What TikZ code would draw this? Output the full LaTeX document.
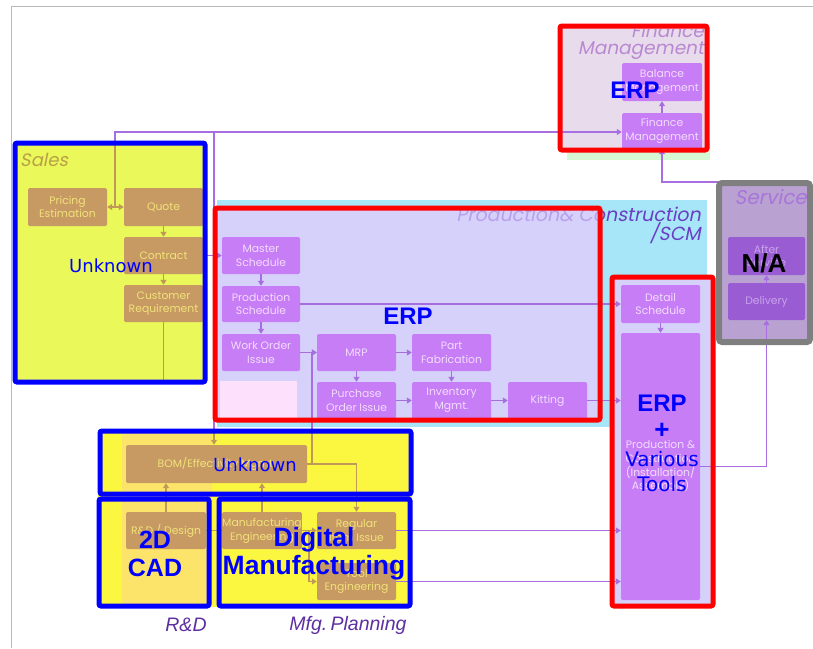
\documentclass[tikz,border=0pt]{standalone}
\usepackage{fontspec}
\setmainfont{Liberation Sans}
\newfontfamily\boxfont{Poppins}
\newfontfamily\titfont[FakeSlant=0.2]{Poppins}
\newfontfamily\djv{DejaVu Sans}
\usetikzlibrary{arrows.meta}

\definecolor{lineP}{HTML}{A66EE0}
\definecolor{lineB}{HTML}{C09858}
\definecolor{boxP}{HTML}{C77DF6}
\definecolor{boxPT}{HTML}{F2DCFF}
\definecolor{boxB}{HTML}{C69A62}
\definecolor{boxBT}{HTML}{F2E27A}
\definecolor{boxS}{HTML}{9A5CD2}
\definecolor{boxST}{HTML}{C8A2EC}
\definecolor{salesY}{HTML}{EAF85A}
\definecolor{botY}{HTML}{FBF640}
\definecolor{rdY}{HTML}{FCE46A}
\definecolor{cyanBg}{HTML}{A6E6F8}
\definecolor{lavBg}{HTML}{D5D1FA}
\definecolor{pinkBg}{HTML}{FCE0FC}
\definecolor{finBg}{HTML}{E8DCEC}
\definecolor{finG}{HTML}{D6F8D2}
\definecolor{svcBg}{HTML}{B9A2D2}
\definecolor{titDark}{HTML}{6B3FC4}
\definecolor{titLight}{HTML}{B8A0EC}
\definecolor{salesT}{HTML}{B8A048}
\definecolor{bottomT}{HTML}{5E2FA0}
\definecolor{frameG}{HTML}{7F7F7F}

\tikzset{
  box/.style={rounded corners=1.5pt, inner sep=0pt, align=center,
    font=\boxfont\fontsize{10.8}{13.8}\selectfont},
  sz/.style 2 args={minimum width=#1pt, minimum height=#2pt},
  pbox/.style={box, fill=boxP, text=boxPT},
  bbox/.style={box, fill=boxB, text=boxBT},
  sbox/.style={box, fill=boxS, text=boxST},
  pline/.style={draw=lineP, line width=1.2pt},
  bline/.style={draw=lineB, line width=1.2pt},
  arr/.style={-{Triangle[length=5pt,width=6pt]}},
  redframe/.style={draw=red, line width=5pt, rounded corners=2pt},
  blueframe/.style={draw=blue, line width=5pt, rounded corners=2pt},
  areatitle/.style={inner sep=0pt, font=\titfont\fontsize{#1}{#1}\selectfont},
  bigb/.style={inner sep=0pt, text=blue, align=center,
    font=\bfseries\fontsize{#1}{#1}\selectfont},
  reg/.style={inner sep=0pt, text=blue, align=center,
    font=\djv\fontsize{#1}{#1}\selectfont},
}

\begin{document}
\begin{tikzpicture}[x=1pt,y=-1pt]
\useasboundingbox (0,0) rectangle (813,648);
\fill[white] (0,0) rectangle (813,648);
% page frame
\draw[gray!55, line width=0.8pt] (11,648) -- (11,6) -- (813,6);

% ---------- area backgrounds ----------
\fill[finG] (567,142) rectangle (710,160);
\fill[finBg] (560,26) rectangle (707,152);
\fill[salesY] (15,143) rectangle (205,382);
\fill[cyanBg] (217,200) rectangle (707,427);
\fill[svcBg] (719,183) rectangle (810,342);
\fill[lavBg] (612,277) rectangle (713,606);
\fill[botY] (98,431) rectangle (412,607);
\fill[rdY] (122,431) rectangle (212,607);

% ---------- area titles ----------
\begin{scope}
  \clip (560,29) rectangle (707,152);
  \node[areatitle=18.5, anchor=east, text=titLight!85!purple] (tFin1) at (704,31) {Finance};
  \node[areatitle=18.5, anchor=east, text=titLight!85!purple] (tFin2) at (704,51) {Management};
\end{scope}
\node[areatitle=18, anchor=west, text=salesT] (tSales) at (20,160) {Sales};
\node[areatitle=19, anchor=east, text=titDark] (tProd1) at (701,214) {Production\& Construction};
\node[areatitle=19, anchor=east, text=titDark] (tProd2) at (701,233) {/SCM};
\node[areatitle=20, anchor=east, text=boxS!85!white] (tSvc) at (807,197) {Service};

% lavender inner production area, with the title faded over it
\fill[lavBg] (218,210) rectangle (598,418);
\begin{scope}
  \clip (218,210) rectangle (598,418);
  \node[areatitle=19, anchor=east, text=titLight] at (701,214) {Production\& Construction};
\end{scope}
\fill[pinkBg] (220,381) rectangle (297,418);

% ---------- finance ----------
\node[pbox, sz={80}{38}] (bal) at (662,82) {Balance\\Management};
\node[pbox, sz={80}{36}] (finm) at (662,131) {Finance\\Management};
\draw[pline, arr] (finm) -- (bal);

% ---------- sales ----------
\node[bbox, sz={79}{38}] (pe) at (67.5,207) {Pricing\\Estimation};
\node[bbox, sz={79}{38}] (quote) at (163.5,207) {Quote};
\node[bbox, sz={79}{37}] (contract) at (163.5,255.5) {Contract};
\node[bbox, sz={79}{37}] (cr) at (163.5,303.5) {Customer\\Requirement};

% ---------- production ----------
\node[pbox, sz={78}{37}] (ms) at (261,255.5) {Master\\Schedule};
\node[pbox, sz={78}{36}] (ps) at (261,304) {Production\\Schedule};
\node[pbox, sz={78}{37}] (wo) at (261,352.5) {Work Order\\Issue};
\node[pbox, sz={79}{37}] (mrp) at (356.5,352.5) {MRP};
\node[pbox, sz={79}{37}] (pf) at (451.5,352.5) {Part\\Fabrication};
\node[pbox, sz={79}{37}] (po) at (356.5,400.5) {Purchase\\Order Issue};
\node[pbox, sz={79}{37}] (inv) at (451.5,400.5) {Inventory\\Mgmt.};
\node[pbox, sz={79}{37}] (kit) at (547.5,400.5) {Kitting};
\node[pbox, sz={79}{38}] (ds) at (660.5,304) {Detail\\Schedule};
\node[pbox, sz={79}{267}] (pi) at (660.5,466.5) {Production \&\\Construction\\(Installation/\\Assembly)};

% ---------- service ----------
\node[sbox, sz={77}{38}] (after) at (766.5,256) {After\\Service};
\node[sbox, sz={77}{37}] (del) at (766.5,301.5) {Delivery};

% ---------- R&D / manufacturing planning ----------
\node[bbox, sz={181}{38}] (bom) at (216.5,464) {BOM/Effectivity Mgmt.};
\node[bbox, sz={80}{37}] (rd) at (166,530.5) {R\&D / Design};
\node[bbox, sz={79}{37}] (me) at (262,530.5) {Manufacturing\\Engineering};
\node[bbox, sz={79}{37}] (ri) at (356.5,530.5) {Regular\\Item Issue};
\node[bbox, sz={79}{37}] (te) at (356.5,581.5) {Tool\\Engineering};

% ---------- junction points ----------
\coordinate (jq) at (115,207);
\coordinate (jqTop) at (115,143);
\coordinate (busL) at (115,132);
\coordinate (busC) at (214,132);
\coordinate (jc) at (214,255.5);
\coordinate (jb) at (214,431);
\coordinate (crEnd) at (163.5,381);
\coordinate (jbm) at (312,464);
\coordinate (jbm2) at (312,431);
\coordinate (jr) at (356.5,464);
\coordinate (jm) at (309,530.5);
\coordinate (svcL) at (718,205);
\coordinate (svcK) at (718,182);

% ---------- connectors ----------
% sales
\draw[bline] (jq) -- (jqTop);
\draw[pline] (jqTop) -- (busL) -- (busC);
\draw[pline, arr] (busC) -- (finm.west |- busC);
\draw[bline, arr] (jq) -- (pe.east);
\draw[bline, arr] (jq) -- (quote.west);
\draw[bline, arr] (quote) -- (contract);
\draw[bline, arr] (contract) -- (cr);
\draw[bline] (cr.south) -- (crEnd);
\draw[pline] (contract.east) -- (jc);
\draw[pline, arr] (jc) -- (ms.west);
\draw[pline] (busC) -- (jb);
\draw[bline, arr] (jb) -- (bom.north -| jb);
% production
\draw[pline, arr] (ms) -- (ps);
\draw[pline, arr] (ps) -- (wo);
\draw[pline, arr] (wo) -- (mrp);
\draw[pline, arr] (mrp) -- (pf);
\draw[pline, arr] (mrp) -- (po);
\draw[pline, arr] (pf) -- (inv);
\draw[pline, arr] (po) -- (inv);
\draw[pline, arr] (inv) -- (kit);
\draw[pline, arr] (kit.east) -- (kit.east -| pi.west);
\draw[pline, arr] (ps.east) -- (ps.east -| ds.west);
\draw[pline, arr] (ds) -- (pi);
% service
\draw[pline, arr] (pi.east) -| (del.south);
\draw[pline, arr] (del) -- (after);
\draw[pline, arr] (svcL) -- (svcK) -| (finm.south);
% R&D / manufacturing planning
\draw[bline, arr] (rd.north) -- (rd.north |- bom.south);
\draw[bline, arr] (me.north) -- (me.north |- bom.south);
\draw[bline, arr] (rd) -- (me);
\draw[bline, arr] (me) -- (ri);
\draw[bline, arr] (jm) |- (te.west);
\draw[bline] (bom.east) -- (jr);
\draw[bline, arr] (jr) -- (ri.north);
\draw[bline] (jbm) -- (jbm2);
\draw[pline, arr] (jbm2) |- (mrp.west);
\draw[pline, arr] (ri.east) -- (ri.east -| pi.west);
\draw[pline, arr] (te.east) -- (te.east -| pi.west);

% ---------- system frames ----------
\draw[redframe] (560,26) rectangle (707,150);
\draw[redframe] (215,208) rectangle (600,420);
\draw[redframe] (612,277) rectangle (713,606);
\draw[draw=frameG, line width=6pt, rounded corners=3pt] (719,183) rectangle (810,342);
\draw[blueframe] (15,143) rectangle (205,382);
\draw[blueframe] (100,431) rectangle (411,494);
\draw[blueframe] (99,499) rectangle (209,606);
\draw[blueframe] (219,499) rectangle (410,606);

% ---------- system labels ----------
\node[bigb=24] (erpFin) at (635,90) {ERP};
\node[bigb=24] (erpProd) at (408,316) {ERP};
\node[bigb=24] (erpR) at (662,403) {ERP};
\node[bigb=26] (plus) at (662,431) {+};
\node[reg=20] (var1) at (662,459) {Various};
\node[reg=20] (var2) at (662,484) {Tools};
\node[reg=18] (unk1) at (111,266) {Unknown};
\node[reg=18] (unk2) at (255,465) {Unknown};
\node[inner sep=0pt, font=\bfseries\fontsize{26}{26}\selectfont] (na) at (764,263) {N/A};
\node[bigb=25, font=\bfseries\fontsize{25}{28}\selectfont] (cad) at (155,554) {2D\\CAD};
\node[bigb=26, font=\bfseries\fontsize{26.5}{28}\selectfont] (dm) at (314,554) {Digital\\Manufacturing};

% ---------- area captions ----------
\node[inner sep=0pt, text=bottomT, font=\itshape\fontsize{19.5}{19.5}\selectfont] (capRD) at (186,625) {R\&D};
\node[inner sep=0pt, text=bottomT, font=\itshape\fontsize{19.5}{19.5}\selectfont] (capMP) at (348,625) {Mfg.\,Planning};
\end{tikzpicture}
\end{document}
